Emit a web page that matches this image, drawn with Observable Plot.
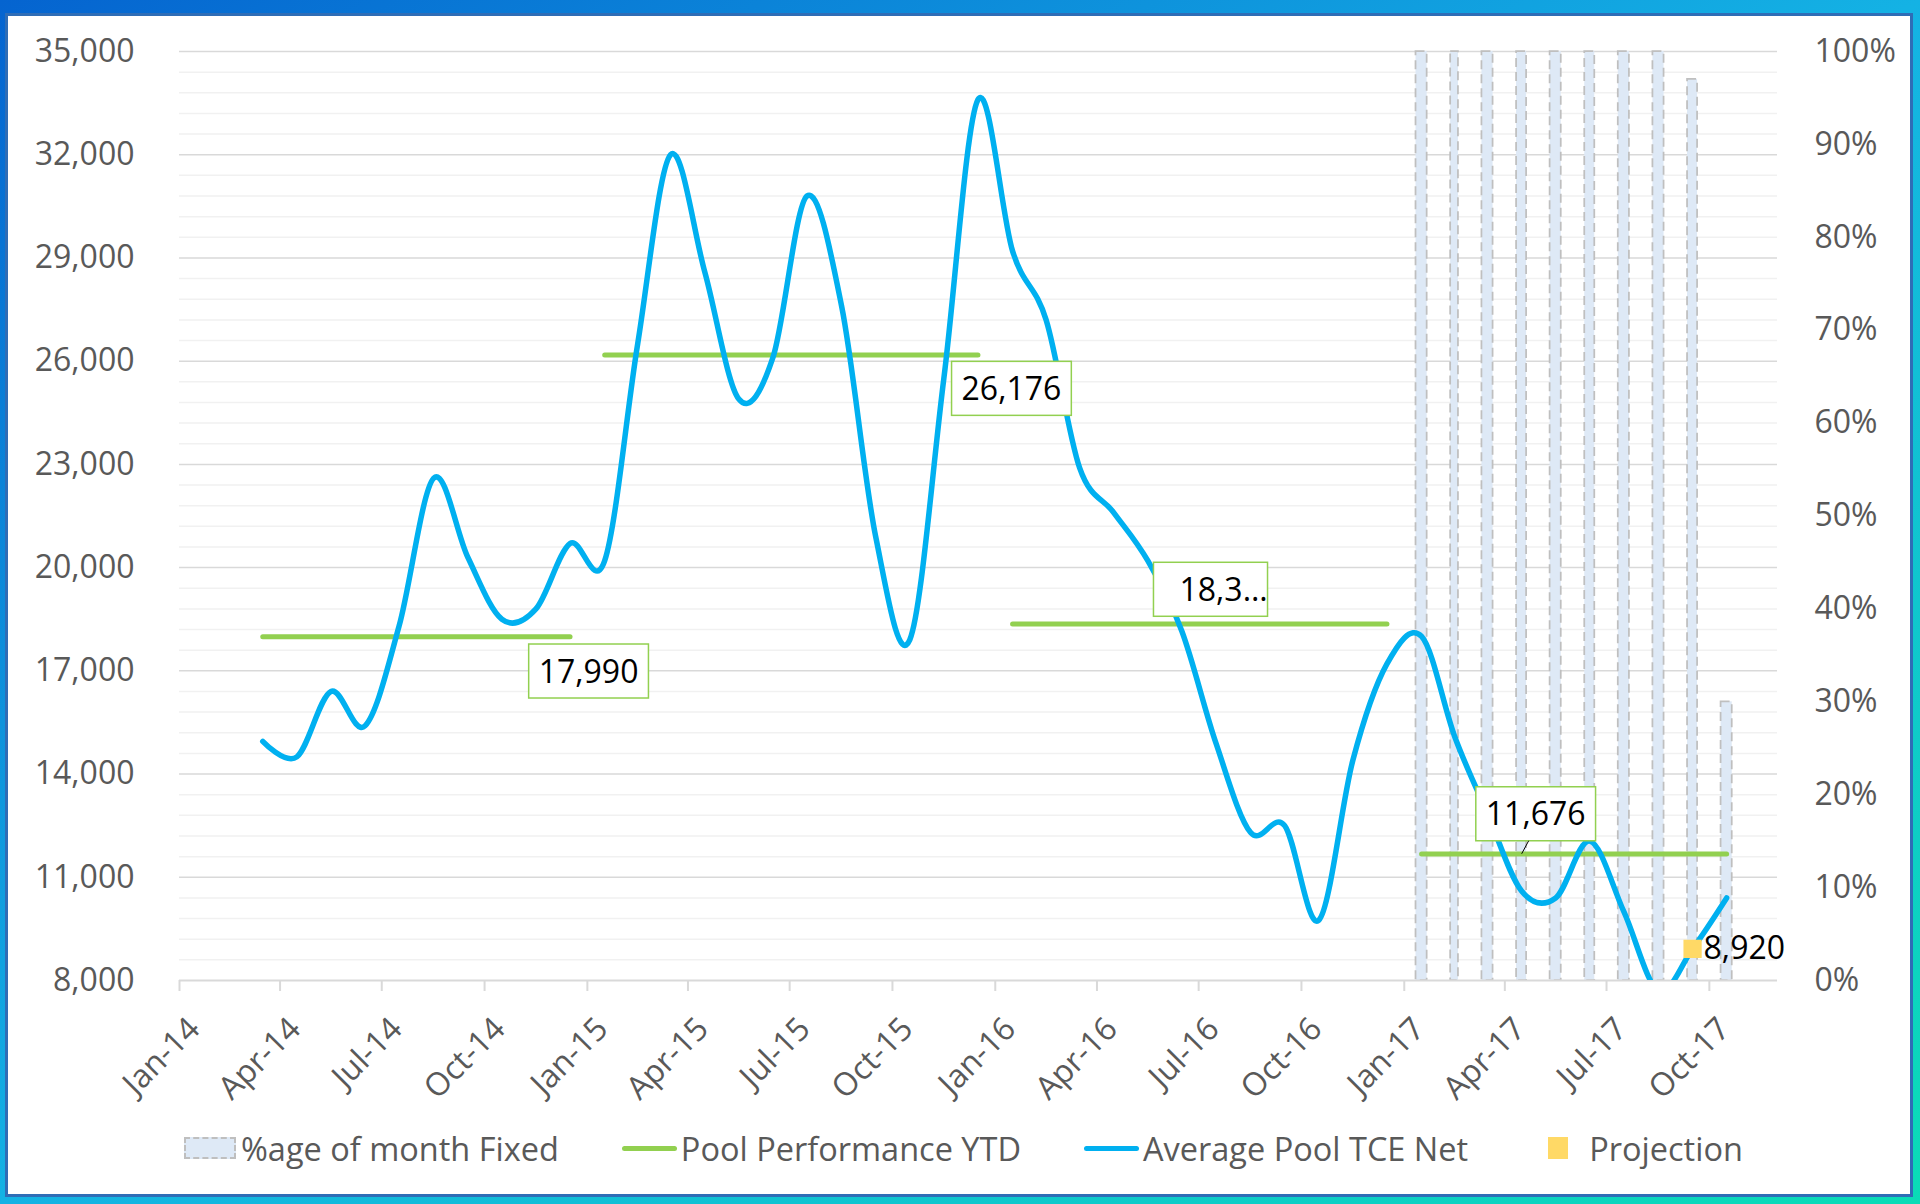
<!DOCTYPE html>
<html>
<head>
<meta charset="utf-8">
<script src="https://cdn.jsdelivr.net/npm/d3@7"></script>
<script src="https://cdn.jsdelivr.net/npm/@observablehq/plot@0.6"></script>
<style>
html,body{margin:0;padding:0;}
body{width:1920px;height:1204px;position:relative;overflow:hidden;
  background:linear-gradient(to bottom right,#0564d0 0%,#14b2e4 50%,#0adcb6 100%);
  font-family:"Open Sans",sans-serif;}
#box{position:absolute;left:5px;top:13px;width:1908px;height:1184px;box-sizing:border-box;
  border:3px solid #2f6db6;background:#fff;}
#box svg{position:absolute;left:0;top:0;}
#legend{position:absolute;left:176px;top:1110px;height:44px;display:flex;align-items:center;
  gap:63px;font-size:32.5px;color:#595959;white-space:nowrap;}
.item{display:flex;align-items:center;}
.sw{display:inline-block;box-sizing:border-box;}
.sw0{width:52px;height:22px;background:#dee9f6;border:2px dashed #bfbfbf;margin-right:5px;}
.sw1{width:55px;height:5px;background:#92d050;border-radius:3px;margin-right:4px;}
.sw2{width:55px;height:5px;background:#00b0f0;border-radius:3px;margin-right:4px;}
.sw3{width:20px;height:22px;background:#ffd966;margin:0 21px 0 17px;}
</style>
</head>
<body>
<div id="box"></div>
<script>
// ---------- data ----------
const months = [
  "2014-03","2014-04","2014-05","2014-06","2014-07","2014-08","2014-09","2014-10","2014-11","2014-12",
  "2015-01","2015-02","2015-03","2015-04","2015-05","2015-06","2015-07","2015-08","2015-09","2015-10","2015-11","2015-12",
  "2016-01","2016-02","2016-03","2016-04","2016-05","2016-06","2016-07","2016-08","2016-09","2016-10","2016-11","2016-12",
  "2017-01","2017-02","2017-03","2017-04","2017-05","2017-06","2017-07","2017-08","2017-09","2017-10"
];
const tceNet = [
  14950, 14500, 16400, 15400, 18300, 22600, 20300, 18500, 18800, 20700,
  20200, 26500, 32000, 28600, 24900, 26100, 30800, 27600, 20900, 17900, 25500, 33600,
  29200, 27200, 22900, 21600, 20200, 18150, 14900, 12300, 12500, 9750, 14400, 17200,
  18000, 15100, 12850, 10600, 10400, 12050, 10000, 7700, 8920, 10400
];
const ytdYears = ["2014", "2015", "2016", "2017"];
const ytdValues = [17990, 26176, 18360, 11676];
const ytdLabels = ["17,990", "26,176", "18,3…", "11,676"];
const fixedMonths = ["2017-01","2017-02","2017-03","2017-04","2017-05","2017-06","2017-07","2017-08","2017-09","2017-10"];
const fixedPct = [100, 100, 100, 100, 100, 100, 100, 100, 97, 30];
const projectionMonths = ["2017-09"];
const projectionValues = [8920];
const projectionLabels = ["8,920"];
const leftTicks = [8000, 11000, 14000, 17000, 20000, 23000, 26000, 29000, 32000, 35000];
const rightTicks = [0, 10, 20, 30, 40, 50, 60, 70, 80, 90, 100];
const xTickLabels = ["Jan-14","Apr-14","Jul-14","Oct-14","Jan-15","Apr-15","Jul-15","Oct-15",
  "Jan-16","Apr-16","Jul-16","Oct-16","Jan-17","Apr-17","Jul-17","Oct-17"];
const seriesNames = ["%age of month Fixed", "Pool Performance YTD", "Average Pool TCE Net", "Projection"];

// ---------- helpers ----------
const parseM = d3.utcParse("%Y-%m");
const parseTick = d3.utcParse("%b-%y");
const fmtTick = d3.utcFormat("%b-%y");
const mid = s => { const a = parseM(s), b = d3.utcMonth.offset(a, 1); return new Date((+a + +b) / 2); };
const Y0 = leftTicks[0], Y1 = leftTicks[leftTicks.length - 1];
const pctToY = p => Y0 + p / 100 * (Y1 - Y0);

const tceData = months.map((m, i) => ({date: mid(m), v: tceNet[i]}));
const ytdData = ytdYears.flatMap((yr, k) =>
  months.filter(m => m.startsWith(yr)).map(m => ({date: mid(m), v: ytdValues[k], year: yr})));
const barData = fixedMonths.map((m, i) => ({
  start: parseM(m), end: d3.utcMonth.offset(parseM(m), 1), y: pctToY(fixedPct[i])}));
const projData = projectionMonths.map((m, i) => ({date: mid(m), v: projectionValues[i], t: projectionLabels[i]}));
const xTicks = xTickLabels.map(parseTick);
const minorTicks = d3.range(Y0, Y1 + 1, 600).filter(v => (v - Y0) % 3000 !== 0);

// label anchors (which month each YTD label hangs from) and offsets
const labelAnchorMonth = ["2014-12", "2015-12", "2016-07", "2017-05"];
const labelStyle = [
  {dx: 18.5, dy: 35.5, anchor: "middle", padL: 10, padR: 10},
  {dx: 33.5, dy: 34.5, anchor: "middle", padL: 10, padR: 10},
  {dx: -36.5, dy: -33.5, anchor: "start", padL: 26, padR: 0},
  {dx: -20, dy: -39, anchor: "middle", padL: 10, padR: 10, leader: true}
];
const labelMarks = ytdLabels.map((t, i) => Plot.text([{date: mid(labelAnchorMonth[i]), v: ytdValues[i], t}], {
  x: "date", y: "v", text: "t", dx: labelStyle[i].dx, dy: labelStyle[i].dy,
  textAnchor: labelStyle[i].anchor, fontSize: 32, fill: "#000"
}));

const chart = Plot.plot({
  width: 1902, height: 1110,
  marginLeft: 171, marginRight: 133, marginTop: 35, marginBottom: 146,
  x: {type: "utc", domain: [parseM("2014-01"), parseM("2017-12")]},
  y: {domain: [Y0, Y1]},
  style: {fontFamily: "'Open Sans', sans-serif", fontSize: "32px", color: "#595959", background: "transparent"},
  marks: [
    Plot.ruleY(minorTicks, {stroke: "#f1f1f1", strokeWidth: 1.5}),
    Plot.ruleY(leftTicks.slice(1), {stroke: "#d9d9d9", strokeWidth: 1.5}),
    Plot.rect(barData, {x1: "start", x2: "end", y1: Y0, y2: "y", insetLeft: 11.75, insetRight: 11.75,
      fill: "#dee9f6", stroke: "#bfbfbf", strokeWidth: 1.75, strokeDasharray: "9,5"}),
    Plot.ruleY([Y0], {stroke: "#d9d9d9", strokeWidth: 2}),
    Plot.axisX({ticks: xTicks, tickSize: 11, tickFormat: () => "", stroke: "#d9d9d9", strokeWidth: 2, label: null}),
    Plot.axisX({ticks: xTicks, tickSize: 0, tickPadding: 43, tickRotate: -45, tickFormat: fmtTick,
      fontSize: 32, fill: "#595959", dx: 15, label: null}),
    Plot.axisY({ticks: leftTicks, tickSize: 0, tickPadding: 45, tickFormat: d3.format(","),
      fontSize: 32, fill: "#595959", label: null}),
    Plot.axisY({anchor: "right", ticks: rightTicks.map(pctToY), tickSize: 0, tickPadding: 37,
      tickFormat: v => `${Math.round((v - Y0) / (Y1 - Y0) * 100)}%`, fontSize: 32, fill: "#595959", label: null}),
    Plot.line(ytdData, {x: "date", y: "v", z: "year", stroke: "#92d050", strokeWidth: 5, strokeLinecap: "round"}),
    Plot.line(tceData, {x: "date", y: "v", stroke: "#00b0f0", strokeWidth: 5.5,
      curve: d3.curveCatmullRom.alpha(0), clip: true}),
    Plot.dot(projData, {x: "date", y: "v", symbol: "square", r: 10.3, fill: "#ffd966"}),
    Plot.text(projData, {x: "date", y: "v", text: "t", dx: 11, textAnchor: "start", fontSize: 32, fill: "#000"}),
    ...labelMarks
  ]
});

const box = document.getElementById("box");
box.appendChild(chart);

// boxes behind the data labels
const ns = "http://www.w3.org/2000/svg";
const sr = chart.getBoundingClientRect();
const allTexts = Array.from(chart.querySelectorAll("text"));
ytdLabels.forEach((label, i) => {
  const t = allTexts.find(el => el.textContent === label);
  if (!t) return;
  const r = t.getBoundingClientRect();
  const st = labelStyle[i];
  const x0 = r.left - sr.left - st.padL, x1 = r.right - sr.left + st.padR;
  const cy = (r.top + r.bottom) / 2 - sr.top + 1;
  const rect = document.createElementNS(ns, "rect");
  rect.setAttribute("x", x0); rect.setAttribute("y", cy - 27);
  rect.setAttribute("width", x1 - x0); rect.setAttribute("height", 54);
  rect.setAttribute("fill", "#fff"); rect.setAttribute("stroke", "#92d050"); rect.setAttribute("stroke-width", 1.5);
  chart.insertBefore(rect, t.closest("g") && t.closest("g").parentNode === chart ? t.closest("g") : null);
  if (st.leader) {
    const cx = (r.left + r.right) / 2 - sr.left;
    const ln = document.createElementNS(ns, "line");
    ln.setAttribute("x1", cx - 7); ln.setAttribute("y1", cy + 27);
    ln.setAttribute("x2", cx - 14); ln.setAttribute("y2", cy + 40);
    ln.setAttribute("stroke", "#000"); ln.setAttribute("stroke-width", 1);
    chart.appendChild(ln);
  }
});

// legend
const legend = d3.select(box).append("div").attr("id", "legend");
seriesNames.forEach((name, i) => {
  const item = legend.append("div").attr("class", "item");
  item.append("span").attr("class", "sw sw" + i);
  item.append("span").text(name);
});
</script>
</body>
</html>
